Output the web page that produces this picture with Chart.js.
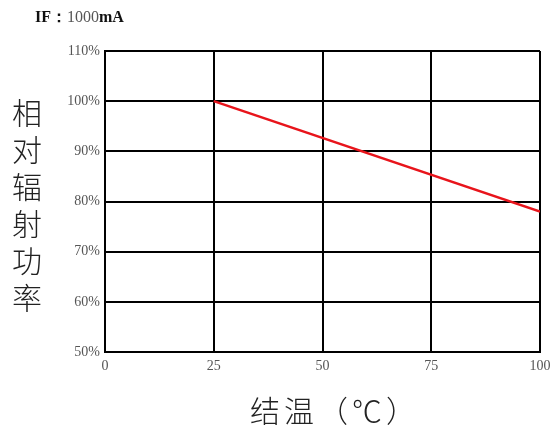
<!DOCTYPE html>
<html>
<head>
<meta charset="utf-8">
<script src="https://cdn.jsdelivr.net/npm/chart.js@4/dist/chart.umd.min.js"></script>
<style>
  html, body { margin: 0; padding: 0; background: #fff; }
  #wrap { position: relative; width: 558px; height: 425px; }
  #chart { position: absolute; left: 0; top: 0; }
  #cond { position: absolute; left: 35px; top: 7px; font-family: "Liberation Serif", serif; font-size: 16px; color: #111; }
  #cond .num { color: #555; }
  #ytitle { position: absolute; left: 5px; top: 98px; writing-mode: vertical-rl; text-orientation: upright;
            font-family: "Noto Sans CJK SC", sans-serif; font-size: 30px; letter-spacing: 7px; color: #222; font-weight: 300; }
  #xtitle { position: absolute; left: 250px; top: 387px; letter-spacing: 4px; white-space: nowrap;
            font-family: "Noto Sans CJK SC", sans-serif; font-size: 30px; color: #222; font-weight: 300; }
</style>
</head>
<body>
<div id="wrap">
  <canvas id="chart" width="558" height="425"></canvas>
  <div id="cond"><b>IF：</b><span class="num">1000</span><b>mA</b></div>
  <div id="ytitle">相对辐射功率</div>
  <div id="xtitle">结温（℃）</div>
</div>
<script>
// junction temperature (°C) and relative radiant power (%)
const temps = [25, 100];
const power = [100, 78];

const xTicks = [0, 25, 50, 75, 100];
const yTicks = [50, 60, 70, 80, 90, 100, 110];

const points = temps.map((t, i) => ({ x: t, y: power[i] }));

const tickFont = { family: '"Liberation Serif", serif', size: 14 };

new Chart(document.getElementById('chart').getContext('2d'), {
    type: 'scatter',
    data: {
        datasets: [{
            data: points,
            showLine: true,
            borderColor: '#e8141b',
            borderWidth: 2.5,
            pointRadius: 0,
            fill: false
        }]
    },
    options: {
        responsive: false,
        animation: false,
        layout: { padding: { left: 0, right: 18, top: 51, bottom: 0 } },
        plugins: { legend: { display: false }, tooltip: { enabled: false } },
        scales: {
            x: {
                type: 'linear',
                min: xTicks[0],
                max: xTicks[xTicks.length - 1],
                afterBuildTicks: s => { s.ticks = xTicks.map(v => ({ value: v })); },
                afterFit: s => { s.height = 73; },
                grid: { color: '#000', lineWidth: 2, drawTicks: false },
                border: { color: '#000', width: 2 },
                ticks: { color: '#555', font: tickFont, padding: 6, maxRotation: 0 }
            },
            y: {
                min: yTicks[0],
                max: yTicks[yTicks.length - 1],
                afterBuildTicks: s => { s.ticks = yTicks.map(v => ({ value: v })); },
                afterFit: s => { s.width = 105; },
                grid: { color: '#000', lineWidth: 2, drawTicks: false },
                border: { color: '#000', width: 2 },
                ticks: { color: '#555', font: tickFont, padding: 5, callback: v => v + '%' }
            }
        }
    }
});
</script>
</body>
</html>
